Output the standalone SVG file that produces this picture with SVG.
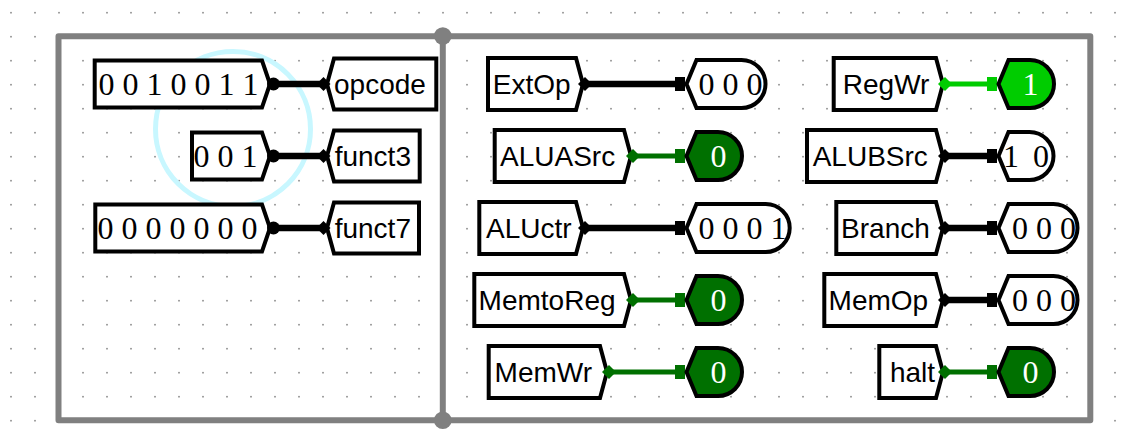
<svg xmlns="http://www.w3.org/2000/svg" xmlns:xlink="http://www.w3.org/1999/xlink" width="1126" height="440" viewBox="0 0 1126 440">
<defs>
<style>
.box{fill:#fff;stroke:#000;stroke-width:4;stroke-linejoin:miter}
.g0{fill:#007000;stroke:#000;stroke-width:4}
.g1{fill:#00cc00;stroke:#000;stroke-width:4}
.lbl{font-family:"Liberation Sans",Arial,sans-serif;font-size:28px;fill:#000}
.val{font-family:"Liberation Serif","Times New Roman",serif;font-size:32px;fill:#000}
.vm{text-anchor:middle}
.ve{text-anchor:end}
.valw{font-family:"Liberation Serif","Times New Roman",serif;font-size:32px;fill:#fff;text-anchor:middle}
.bus{stroke:#000;stroke-width:6.5;fill:none}
.w0{stroke:#007000;stroke-width:5;fill:none}
.w1{stroke:#00cc00;stroke-width:5;fill:none}
.kB{fill:#000}
.k0{fill:#007000}
.k1{fill:#00cc00}
.frame{fill:none;stroke:#808080;stroke-width:6;stroke-linejoin:round;stroke-linecap:round}
</style>
<pattern id="grid" width="24" height="24" patternUnits="userSpaceOnUse"><rect x="10.2" y="11.9" width="1.6" height="1.6" fill="#8a8a8a"/></pattern>
<path id="dia" d="M-7 0 L0 -7 L7 0 L0 7 Z"/>
<rect id="sq" x="-8" y="-7" width="10" height="14"/>
<circle id="dot" r="6.5"/>
</defs>
<rect width="1126" height="440" fill="#fff"/>
<rect width="1126" height="440" fill="url(#grid)"/>
<g id="frame">
<path class="frame" d="M58.5 36.2 H1090.3 V420.2 H58.5 Z"/>
<line class="frame" x1="442.8" y1="36.2" x2="442.8" y2="420.2"/>
<circle cx="442.8" cy="36" r="8.8" fill="#808080"/>
<circle cx="442.8" cy="420.3" r="8.8" fill="#808080"/>
</g>
<circle id="highlight" cx="233" cy="129" r="77.5" fill="none" stroke="#c8f7ff" stroke-width="5"/>

<g id="in-opcode"><path class="box" d="M94.7 60.5 H262 L270 84 L262 107.5 H94.7 Z"/><text class="val ve" x="258.5" y="94.5">0 0 1 0 0 1 1</text></g>
<g id="in-funct3"><path class="box" d="M192 132.5 H262 L270 156 L262 179.5 H192 Z"/><text class="val ve" x="257.5" y="166.5">0 0 1</text></g>
<g id="in-funct7"><path class="box" d="M95.3 204.5 H262 L270 228 L262 251.5 H95.3 Z"/><text class="val ve" x="257.5" y="238.5">0 0 0 0 0 0 0</text></g>
<g id="t-opcode"><path class="box" d="M327 84 L334 58.5 H436.3 V109.5 H334 Z"/><text class="lbl" x="334" y="94">opcode</text></g>
<g id="t-funct3"><path class="box" d="M327 156 L334 130.5 H419.7 V181.5 H334 Z"/><text class="lbl" x="334.7" y="166">funct3</text></g>
<g id="t-funct7"><path class="box" d="M327 228 L334 202.5 H419 V253.5 H334 Z"/><text class="lbl" x="334.7" y="238">funct7</text></g>

<g id="t-ExtOp"><path class="box" d="M488 58 H576 L583 84 L576 110 H488 Z"/><text class="lbl" x="492.8" y="94">ExtOp</text></g>
<g id="t-ALUASrc"><path class="box" d="M494.7 130 H624 L631 156 L624 182 H494.7 Z"/><text class="lbl" x="500" y="166">ALUASrc</text></g>
<g id="t-ALUctr"><path class="box" d="M479.3 202 H576 L583 228 L576 254 H479.3 Z"/><text class="lbl" x="486" y="238">ALUctr</text></g>
<g id="t-MemtoReg"><path class="box" d="M474.3 274 H624 L631 300 L624 326 H474.3 Z"/><text class="lbl" x="478.6" y="310">MemtoReg</text></g>
<g id="t-MemWr"><path class="box" d="M488.7 346 H600 L607 372 L600 398 H488.7 Z"/><text class="lbl" x="494.6" y="382">MemWr</text></g>
<g id="t-RegWr"><path class="box" d="M833.7 58 H936 L943 84 L936 110 H833.7 Z"/><text class="lbl" x="842.8" y="94">RegWr</text></g>
<g id="t-ALUBSrc"><path class="box" d="M807 130 H936 L943 156 L936 182 H807 Z"/><text class="lbl" x="812.7" y="166">ALUBSrc</text></g>
<g id="t-Branch"><path class="box" d="M836.3 202 H936 L943 228 L936 254 H836.3 Z"/><text class="lbl" x="841.1" y="238">Branch</text></g>
<g id="t-MemOp"><path class="box" d="M824.3 274 H936 L943 300 L936 326 H824.3 Z"/><text class="lbl" x="828.6" y="310">MemOp</text></g>
<g id="t-halt"><path class="box" d="M879.3 346 H936 L943 372 L936 398 H879.3 Z"/><text class="lbl" x="889.9" y="382">halt</text></g>

<g id="connectors">
<line class="bus" x1="273.5" y1="84" x2="323.5" y2="84"/>
<line class="bus" x1="273.5" y1="156" x2="323.5" y2="156"/>
<line class="bus" x1="273.5" y1="228" x2="323.5" y2="228"/>
<use xlink:href="#dot" class="kB" x="273.5" y="84"/><use xlink:href="#dia" class="kB" x="323.5" y="84"/>
<use xlink:href="#dot" class="kB" x="273.5" y="156"/><use xlink:href="#dia" class="kB" x="323.5" y="156"/>
<use xlink:href="#dot" class="kB" x="273.5" y="228"/><use xlink:href="#dia" class="kB" x="323.5" y="228"/>

<line class="bus" x1="585" y1="84" x2="683" y2="84"/>
<use xlink:href="#dia" class="kB" x="585" y="84"/><use xlink:href="#sq" class="kB" x="683" y="84"/>
<line class="w0" x1="633" y1="156" x2="683" y2="156"/>
<use xlink:href="#dia" class="k0" x="633" y="156"/><use xlink:href="#sq" class="k0" x="683" y="156"/>
<line class="bus" x1="585" y1="228" x2="683" y2="228"/>
<use xlink:href="#dia" class="kB" x="585" y="228"/><use xlink:href="#sq" class="kB" x="683" y="228"/>
<line class="w0" x1="633" y1="300" x2="683" y2="300"/>
<use xlink:href="#dia" class="k0" x="633" y="300"/><use xlink:href="#sq" class="k0" x="683" y="300"/>
<line class="w0" x1="609" y1="372" x2="683" y2="372"/>
<use xlink:href="#dia" class="k0" x="609" y="372"/><use xlink:href="#sq" class="k0" x="683" y="372"/>

<line class="w1" x1="945" y1="84" x2="995" y2="84"/>
<use xlink:href="#dia" class="k1" x="945" y="84"/><use xlink:href="#sq" class="k1" x="995" y="84"/>
<line class="bus" x1="945" y1="156" x2="995" y2="156"/>
<use xlink:href="#dia" class="kB" x="945" y="156"/><use xlink:href="#sq" class="kB" x="995" y="156"/>
<line class="bus" x1="945" y1="228" x2="995" y2="228"/>
<use xlink:href="#dia" class="kB" x="945" y="228"/><use xlink:href="#sq" class="kB" x="995" y="228"/>
<line class="bus" x1="945" y1="300" x2="995" y2="300"/>
<use xlink:href="#dia" class="kB" x="945" y="300"/><use xlink:href="#sq" class="kB" x="995" y="300"/>
<line class="w0" x1="945" y1="372" x2="995" y2="372"/>
<use xlink:href="#dia" class="k0" x="945" y="372"/><use xlink:href="#sq" class="k0" x="995" y="372"/>
</g>

<g id="o-ExtOp"><path class="box" d="M686.5 84 L696.5 60 H741.5 A24 24 0 0 1 741.5 108 H696.5 Z"/><text class="val vm" x="730.5" y="94.5">0 0 0</text></g>
<g id="o-ALUASrc"><path class="g0" d="M686.5 156 L696.5 132 H718 A24 24 0 0 1 718 180 H696.5 Z"/><text class="valw" x="718.5" y="166.5">0</text></g>
<g id="o-ALUctr"><path class="box" d="M686.5 228 L696.5 204 H765.7 A24 24 0 0 1 765.7 252 H696.5 Z"/><text class="val vm" x="742.5" y="238.5">0 0 0 1</text></g>
<g id="o-MemtoReg"><path class="g0" d="M686.5 300 L696.5 276 H718 A24 24 0 0 1 718 324 H696.5 Z"/><text class="valw" x="718.5" y="310.5">0</text></g>
<g id="o-MemWr"><path class="g0" d="M686.5 372 L696.5 348 H718 A24 24 0 0 1 718 396 H696.5 Z"/><text class="valw" x="718.5" y="382.5">0</text></g>
<g id="o-RegWr"><path class="g1" d="M998.5 84 L1008.5 60 H1030 A24 24 0 0 1 1030 108 H1008.5 Z"/><text class="valw" x="1030.5" y="94.5">1</text></g>
<g id="o-ALUBSrc"><path class="box" d="M998.5 156 L1008.5 132 H1029.5 A24 24 0 0 1 1029.5 180 H1008.5 Z"/><text class="val vm" x="1026" y="166.5" textLength="46">1 0</text></g>
<g id="o-Branch"><path class="box" d="M998.5 228 L1008.5 204 H1053.5 A24 24 0 0 1 1053.5 252 H1008.5 Z"/><text class="val vm" x="1044" y="238.5">0 0 0</text></g>
<g id="o-MemOp"><path class="box" d="M998.5 300 L1008.5 276 H1053.5 A24 24 0 0 1 1053.5 324 H1008.5 Z"/><text class="val vm" x="1044" y="310.5">0 0 0</text></g>
<g id="o-halt"><path class="g0" d="M998.5 372 L1008.5 348 H1030 A24 24 0 0 1 1030 396 H1008.5 Z"/><text class="valw" x="1030.5" y="382.5">0</text></g>
</svg>
